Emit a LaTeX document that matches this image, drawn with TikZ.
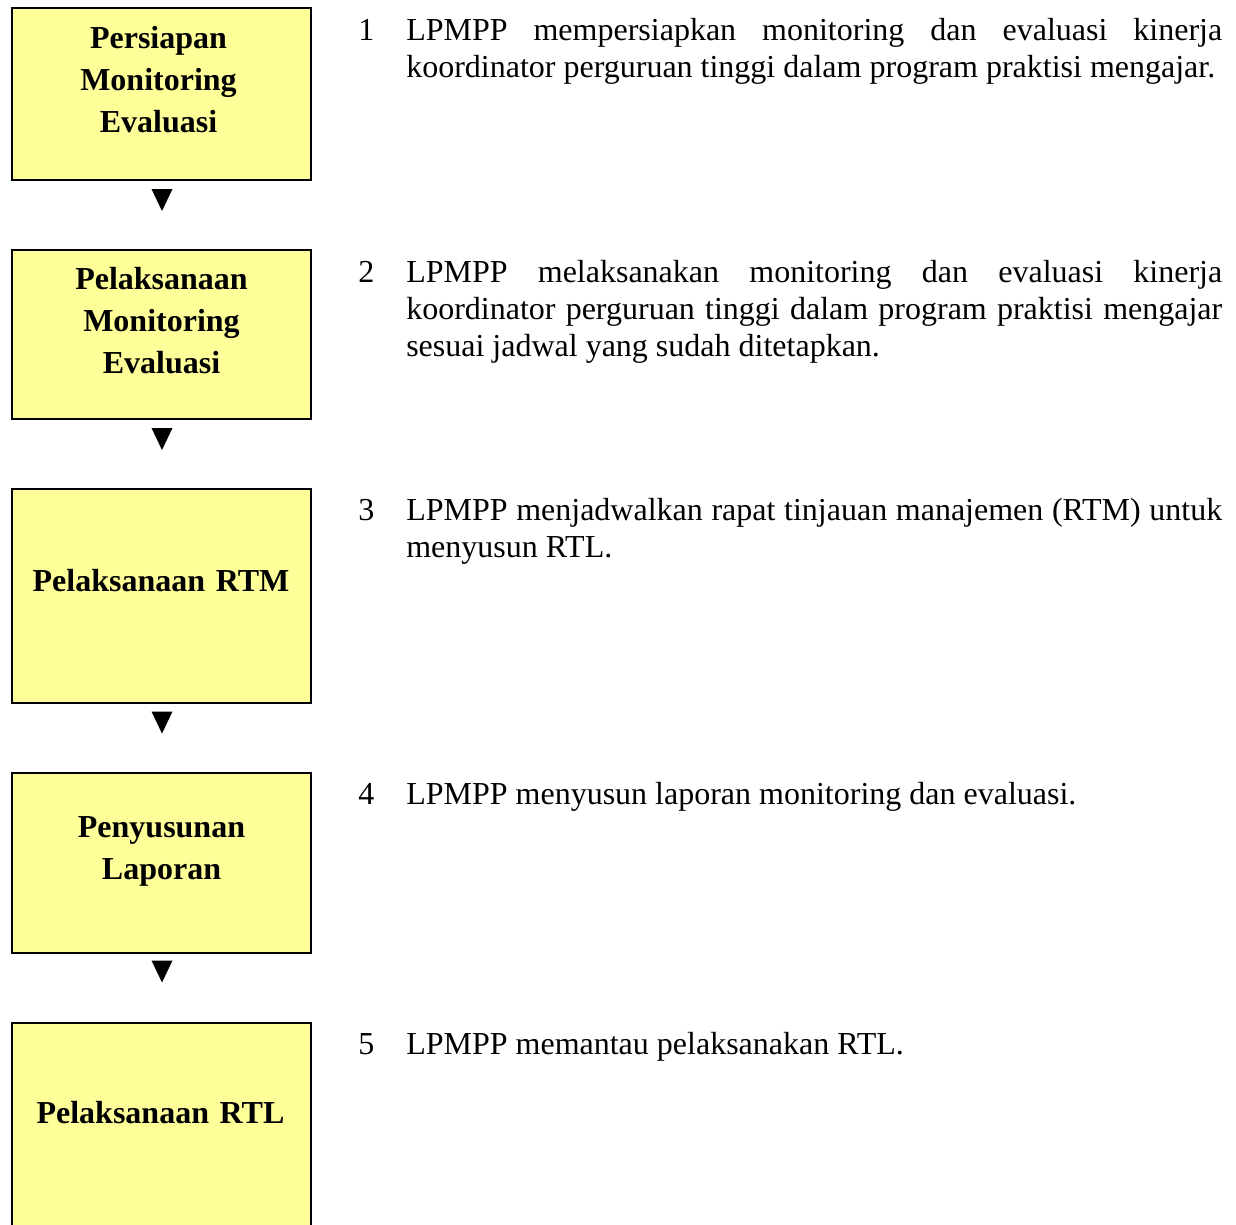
\documentclass[tikz,border=0pt]{standalone}
\usepackage{fontspec}
\setmainfont{Liberation Serif}
\hyphenpenalty=10000
\exhyphenpenalty=10000
\definecolor{boxyellow}{HTML}{FFFF99}
\tikzset{
  box/.style={draw=black, line width=1.5pt, fill=boxyellow, minimum width=224.7pt, inner sep=0pt},
  boxtext/.style={anchor=base, text width=225pt, align=center, inner sep=0pt, font=\fontsize{24pt}{31.5pt}\selectfont\bfseries},
  numtext/.style={anchor=base west, inner sep=0pt, font=\fontsize{24pt}{27.75pt}\selectfont},
  desc/.style={anchor=base west, inner sep=0pt, text width=612pt, align=justify,
     font=\fontsize{24pt}{27.75pt}\selectfont},
  tri/.style={fill=black}
}
\begin{document}
\begin{tikzpicture}[x=0.75pt,y=-0.75pt]
\clip (0,0) rectangle (1236,1225);
\fill[white] (0,0) rectangle (1236,1225);
% boxes
\node[box, minimum height=129pt] (b1) at (161.5,94) {};
\node[box, minimum height=126.4pt] (b2) at (161.5,334.25) {};
\node[box, minimum height=160.5pt] (b3) at (161.5,596) {};
\node[box, minimum height=135pt] (b4) at (161.5,863) {};
\node[box, minimum height=177.75pt] (b5) at (161.5,1141.5) {};
% box labels
\node[boxtext] (l1) at (158.5,48) {Persiapan\\Monitoring\\Evaluasi};
\node[boxtext] (l2) at (161.5,289) {Pelaksanaan\\Monitoring\\Evaluasi};
\node[boxtext] (l3) at (161,591) {Pelaksanaan RTM};
\node[boxtext] (l4) at (161.5,837) {Penyusunan\\Laporan};
\node[boxtext] (l5) at (160.5,1123) {Pelaksanaan RTL};
% triangles
\coordinate (t1) at (162,200);
\coordinate (t2) at (162,439);
\coordinate (t3) at (162,722.5);
\coordinate (t4) at (162,971.5);
\foreach \t in {t1,t2,t3,t4}{
  \fill[tri] (\t) ++(-10.5,-11) -- ++(21,0) -- ++(-10.5,22) -- cycle;
}
% numbers
\node[numtext] (n1) at (358,40) {1};
\node[numtext] (n2) at (358,282) {2};
\node[numtext] (n3) at (358,520) {3};
\node[numtext] (n4) at (358,804) {4};
\node[numtext] (n5) at (358,1054) {5};
% descriptions
\node[desc] (d1) at (406,40) {LPMPP mempersiapkan monitoring dan evaluasi kinerja koordinator perguruan tinggi dalam program praktisi mengajar.};
\node[desc] (d2) at (406,282) {LPMPP melaksanakan monitoring dan evaluasi kinerja koordinator perguruan tinggi dalam program praktisi mengajar sesuai jadwal yang sudah ditetapkan.};
\node[desc] (d3) at (406,520) {LPMPP menjadwalkan rapat tinjauan manajemen (RTM) untuk menyusun RTL.};
\node[desc] (d4) at (406,804) {LPMPP menyusun laporan monitoring dan evaluasi.};
\node[desc] (d5) at (406,1054) {LPMPP memantau pelaksanakan RTL.};
\end{tikzpicture}
\end{document}
